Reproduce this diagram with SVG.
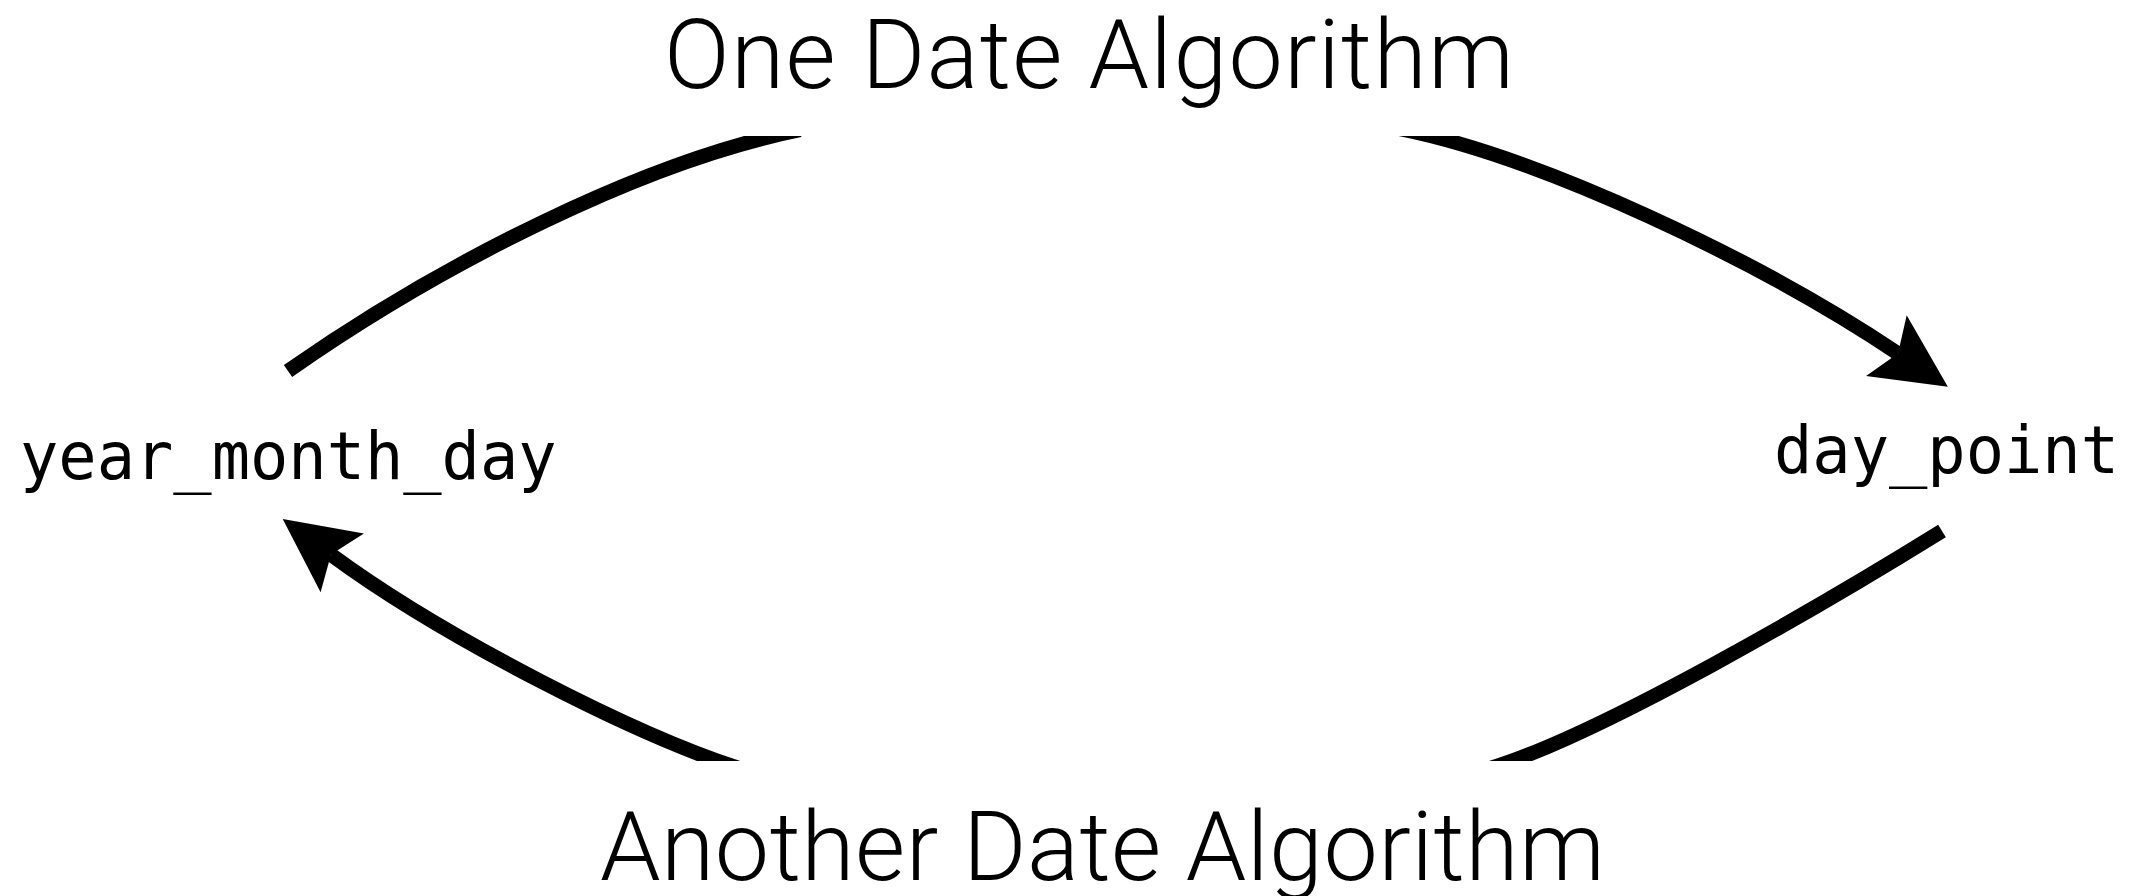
<svg xmlns="http://www.w3.org/2000/svg" width="2137" height="896" viewBox="0 0 2137 896">
  <style>
    .title { font-family: Roboto, "Liberation Sans", sans-serif; font-weight: 300; font-size: 97px; fill: #000; }
    .mono { font-family: "DejaVu Sans Mono", "Liberation Mono", monospace; font-size: 66px; fill: #000; }
    .arc { fill: none; stroke: #000; stroke-width: 14.5; stroke-linecap: butt; }
  </style>
  <defs>
    <marker id="head" markerUnits="userSpaceOnUse" orient="auto" refX="14" refY="36.5" markerWidth="80" markerHeight="80" overflow="visible">
      <path d="M 74 36.5 L 0 0 L 14 36.5 L 0 73 Z" fill="#000"/>
    </marker>
    <clipPath id="band">
      <rect x="0" y="136" width="2137" height="625"/>
    </clipPath>
  </defs>
  <rect width="2137" height="896" fill="#fff"/>

  <g id="connectors" clip-path="url(#band)">
    <path id="arc-top-left" class="arc" d="M 288 371 C 443 262.5 645 161 800 130"/>
    <path id="arc-top-right" class="arc" d="M 1400 129 C 1540 157 1758 259.6 1898 353.4" marker-end="url(#head)"/>
    <path id="arc-bottom-right" class="arc" d="M 1942 531 C 1832 599.2 1594 739.2 1484 770"/>
    <path id="arc-bottom-left" class="arc" d="M 750 771.6 C 640 738.6 441 635.7 331 554.6" marker-end="url(#head)"/>
  </g>

  <g id="label-one-date-algorithm">
    <text class="title" x="664" y="88" textLength="850">One Date Algorithm</text>
  </g>
  <g id="label-another-date-algorithm">
    <text class="title" x="600" y="880" textLength="1005">Another Date Algorithm</text>
  </g>
  <g id="node-year-month-day">
    <text class="mono" x="20" y="479" textLength="536.6" lengthAdjust="spacingAndGlyphs">year_month_day</text>
  </g>
  <g id="node-day-point">
    <text class="mono" x="1774" y="473" textLength="345" lengthAdjust="spacingAndGlyphs">day_point</text>
  </g>
</svg>
